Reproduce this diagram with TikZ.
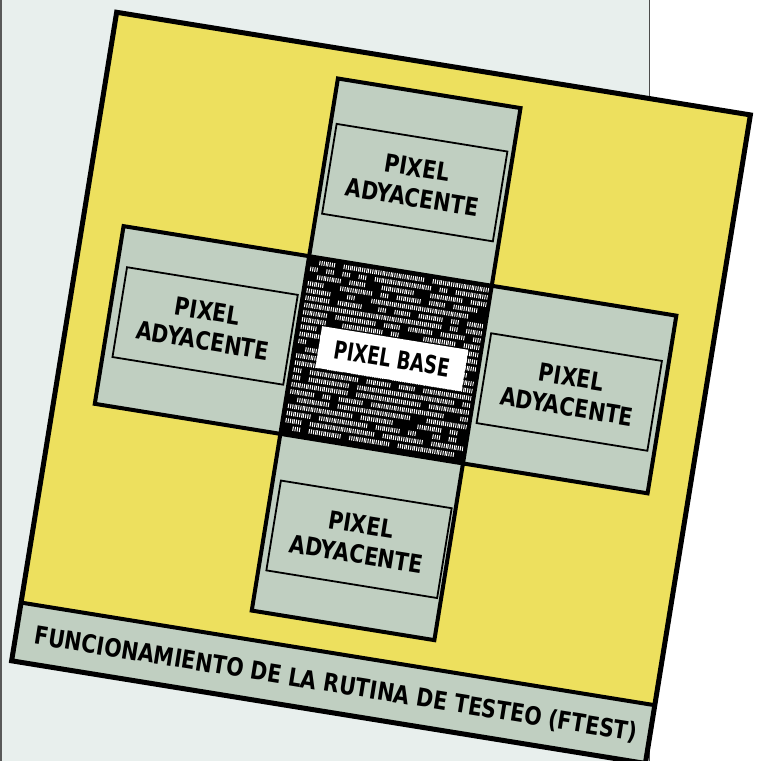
\documentclass[tikz,border=0pt]{standalone}
\usepackage{fontspec}
\setmainfont{DejaVu Sans}
\definecolor{panelyellow}{HTML}{EDE05E}
\definecolor{boxgreen}{HTML}{C0CFC1}
\definecolor{pagegray}{HTML}{E8EFED}

\begin{document}
\begin{tikzpicture}[x=1pt, y=1pt,
    every node/.style={font=\fontsize{25}{30}\selectfont\bfseries, transform shape},
    arm/.style={fill=boxgreen, draw=black, line width=4pt, line join=miter},
    adjbox/.style={draw=black, line width=1.8pt, minimum width=173pt, minimum height=91pt, align=center, inner sep=0pt},
    adjtext/.style={xscale=0.82, align=center, inner sep=0pt},
    basebox/.style={fill=white, minimum width=148pt, minimum height=42pt, inner sep=0pt},
    ticks/.style={white, line width=4.5pt, dash pattern=on 1pt off 1.2pt}
]
\useasboundingbox (0,0) rectangle (760,761);
% page behind the panel
\fill[pagegray] (0,0) rectangle (649,761);
\fill[white] (649,0) rectangle (760,761);
\draw[gray!60!black, line width=0.8pt] (649,0) -- (649,761);
\draw[gray!70!black, line width=1.5pt] (1,0) -- (1,761);

\begin{scope}[shift={(115,751)}, rotate=-9.2]
% panel and caption strip
\fill[panelyellow] (2,-2) rectangle (644,-659);
\fill[boxgreen] (2,-600) rectangle (644,-659);
\draw[line width=4pt] (2,-600) -- (644,-600);
\draw[line width=5pt] (2,-2) rectangle (644,-659);

% cross of pixels
\draw[arm] (231,-32) -- (416,-32) -- (416,-212) -- (603,-212) -- (603,-392)
  -- (416,-392) -- (416,-571) -- (231,-571) -- (231,-392) -- (43,-392)
  -- (43,-212) -- (231,-212) -- cycle;

% base pixel texture
\fill[black] (231,-212) rectangle (416,-392);
\pgfmathsetseed{17}
\foreach \r in {0,...,23}{
  \foreach \c in {0,...,21}{
    \pgfmathtruncatemacro\on{rnd<0.8}
    \ifnum\on=1
      \draw[ticks] ({234+\c*8.2},{-217-\r*7.3}) -- ++(8.2,0);
    \fi
  }
}
\draw[line width=4pt] (231,-212) rectangle (416,-392);

% pixel boxes
\node[adjbox] (adjN) at (323.5,-122.5) {};
\node[adjbox] (adjW) at (139.5,-297.5) {};
\node[adjbox] (adjE) at (509.5,-304.5) {};
\node[adjbox] (adjS) at (325.5,-483.5) {};
\node[adjtext] (adjNtext) at (adjN) {PIXEL\\ADYACENTE};
\node[adjtext] (adjWtext) at (adjW) {PIXEL\\ADYACENTE};
\node[adjtext] (adjEtext) at (adjE) {PIXEL\\ADYACENTE};
\node[adjtext] (adjStext) at (adjS) {PIXEL\\ADYACENTE};
\node[basebox] (base) at (329,-300) {};
\node[xscale=0.72, inner sep=0pt] (basetext) at (base) {PIXEL BASE};

\node[xscale=0.82] (caption) at (326,-631) {FUNCIONAMIENTO DE LA RUTINA DE TESTEO (FTEST)};
\end{scope}
\end{tikzpicture}
\end{document}
